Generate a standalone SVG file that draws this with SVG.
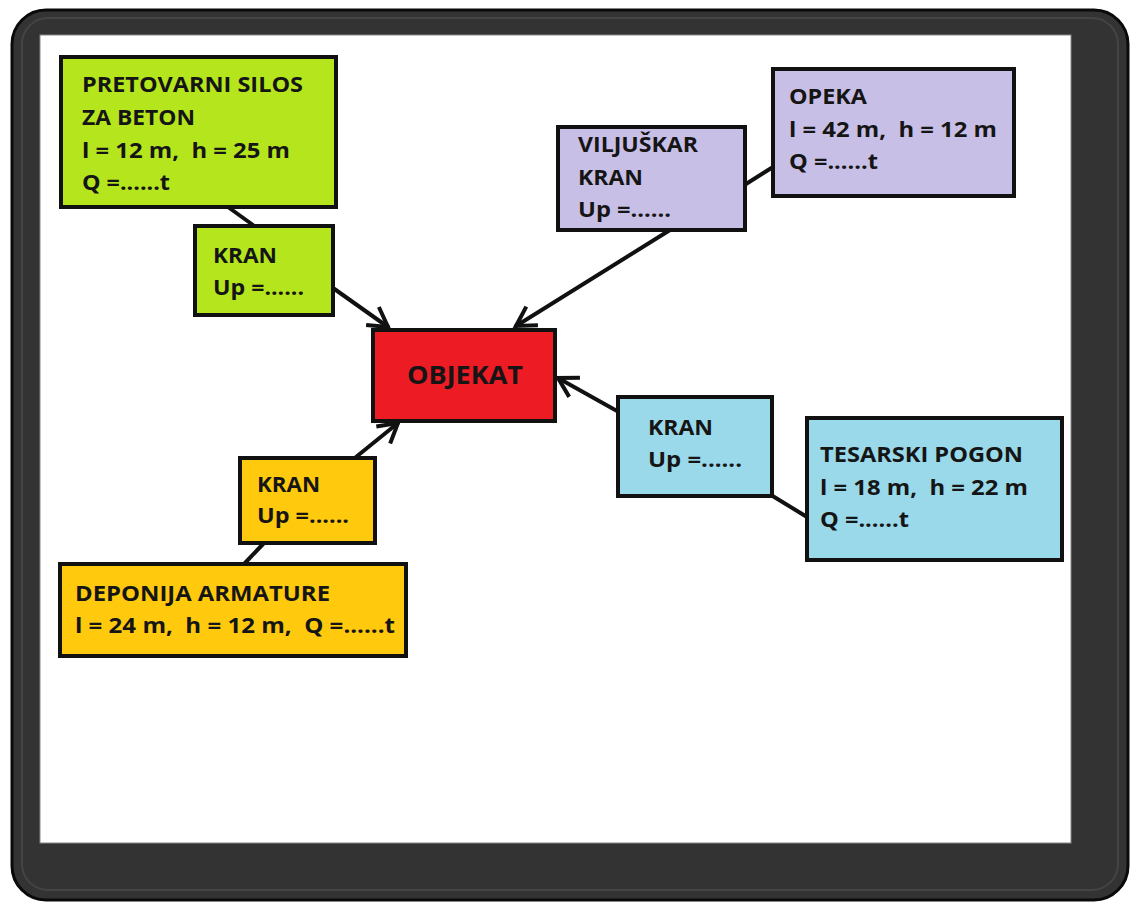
<svg xmlns="http://www.w3.org/2000/svg" width="1131" height="903" viewBox="0 0 1131 903">
<style>
.box{stroke:#111;stroke-width:4}
.t{font-family:"Open Sans","Liberation Sans",sans-serif;font-weight:bold;font-size:21px;fill:#151515}
.big{font-size:25px}
.c{stroke:#111;stroke-width:4;fill:none;stroke-linecap:round}
</style>
<defs>
<marker id="arr" markerUnits="userSpaceOnUse" markerWidth="40" markerHeight="40" viewBox="-30 -20 40 40" refX="0" refY="0" orient="auto">
<path d="M-19,-11 L0,0 L-19,11" fill="none" stroke="#111" stroke-width="4" stroke-linejoin="miter"/>
</marker>
</defs>
<rect x="0" y="0" width="1131" height="903" fill="#fff"/>
<rect x="12" y="10" width="1116" height="890" rx="34" fill="#333" stroke="#0a0a0a" stroke-width="3"/>
<rect x="22" y="18" width="1096" height="872" rx="26" fill="none" stroke="#444" stroke-width="2"/>
<rect x="40" y="35" width="1031" height="808" fill="#fff" stroke="#888" stroke-width="1"/>

<g id="connectors">
<line class="c" x1="228" y1="207" x2="253" y2="225"/>
<line class="c" x1="333" y1="288" x2="388" y2="327" marker-end="url(#arr)"/>
<line class="c" x1="670" y1="230" x2="516" y2="326" marker-end="url(#arr)"/>
<line class="c" x1="773" y1="167" x2="746" y2="184"/>
<line class="c" x1="617" y1="411" x2="558" y2="378" marker-end="url(#arr)"/>
<line class="c" x1="771" y1="495" x2="807" y2="517"/>
<line class="c" x1="356" y1="457" x2="398" y2="423" marker-end="url(#arr)"/>
<line class="c" x1="264" y1="543" x2="245" y2="563"/>
</g>

<g id="silos">
<rect class="box" x="61" y="57" width="275" height="150" fill="#b5e61d"/>
<text class="t" x="82" y="92" textLength="221" lengthAdjust="spacingAndGlyphs">PRETOVARNI SILOS</text>
<text class="t" x="82" y="125" textLength="113" lengthAdjust="spacingAndGlyphs">ZA BETON</text>
<text class="t" x="82" y="158" textLength="208" lengthAdjust="spacingAndGlyphs" xml:space="preserve">l = 12 m,  h = 25 m</text>
<text class="t" x="82" y="190" textLength="88" lengthAdjust="spacingAndGlyphs">Q =......t</text>
</g>

<g id="kran-green">
<rect class="box" x="195" y="226" width="138" height="89" fill="#b5e61d"/>
<text class="t" x="213" y="263" textLength="64" lengthAdjust="spacingAndGlyphs">KRAN</text>
<text class="t" x="213" y="295" textLength="91" lengthAdjust="spacingAndGlyphs">Up =......</text>
</g>

<g id="objekat">
<rect class="box" x="373" y="330" width="182" height="91" fill="#ed1c24"/>
<text class="t big" x="407" y="384" textLength="116" lengthAdjust="spacingAndGlyphs">OBJEKAT</text>
</g>

<g id="viljuskar">
<rect class="box" x="558" y="127" width="187" height="103" fill="#c8bfe7"/>
<text class="t" x="578" y="152" textLength="120" lengthAdjust="spacingAndGlyphs">VILJUŠKAR</text>
<text class="t" x="578" y="185" textLength="65" lengthAdjust="spacingAndGlyphs">KRAN</text>
<text class="t" x="578" y="217" textLength="93" lengthAdjust="spacingAndGlyphs">Up =......</text>
</g>

<g id="opeka">
<rect class="box" x="773" y="69" width="241" height="127" fill="#c8bfe7"/>
<text class="t" x="789" y="104" textLength="78" lengthAdjust="spacingAndGlyphs">OPEKA</text>
<text class="t" x="789" y="137" textLength="208" lengthAdjust="spacingAndGlyphs" xml:space="preserve">l = 42 m,  h = 12 m</text>
<text class="t" x="789" y="169" textLength="89" lengthAdjust="spacingAndGlyphs">Q =......t</text>
</g>

<g id="kran-blue">
<rect class="box" x="618" y="397" width="154" height="99" fill="#99d9ea"/>
<text class="t" x="648" y="435" textLength="65" lengthAdjust="spacingAndGlyphs">KRAN</text>
<text class="t" x="648" y="467" textLength="94" lengthAdjust="spacingAndGlyphs">Up =......</text>
</g>

<g id="tesarski">
<rect class="box" x="807" y="418" width="255" height="142" fill="#99d9ea"/>
<text class="t" x="820" y="462" textLength="203" lengthAdjust="spacingAndGlyphs">TESARSKI POGON</text>
<text class="t" x="820" y="495" textLength="208" lengthAdjust="spacingAndGlyphs" xml:space="preserve">l = 18 m,  h = 22 m</text>
<text class="t" x="820" y="527" textLength="89" lengthAdjust="spacingAndGlyphs">Q =......t</text>
</g>

<g id="kran-yellow">
<rect class="box" x="240" y="458" width="135" height="85" fill="#ffc90e"/>
<text class="t" x="257" y="492" textLength="63" lengthAdjust="spacingAndGlyphs">KRAN</text>
<text class="t" x="257" y="523" textLength="92" lengthAdjust="spacingAndGlyphs">Up =......</text>
</g>

<g id="deponija">
<rect class="box" x="60" y="564" width="346" height="92" fill="#ffc90e"/>
<text class="t" x="75" y="601" textLength="255" lengthAdjust="spacingAndGlyphs">DEPONIJA ARMATURE</text>
<text class="t" x="75" y="633" textLength="320" lengthAdjust="spacingAndGlyphs" xml:space="preserve">l = 24 m,  h = 12 m,  Q =......t</text>
</g>
</svg>
